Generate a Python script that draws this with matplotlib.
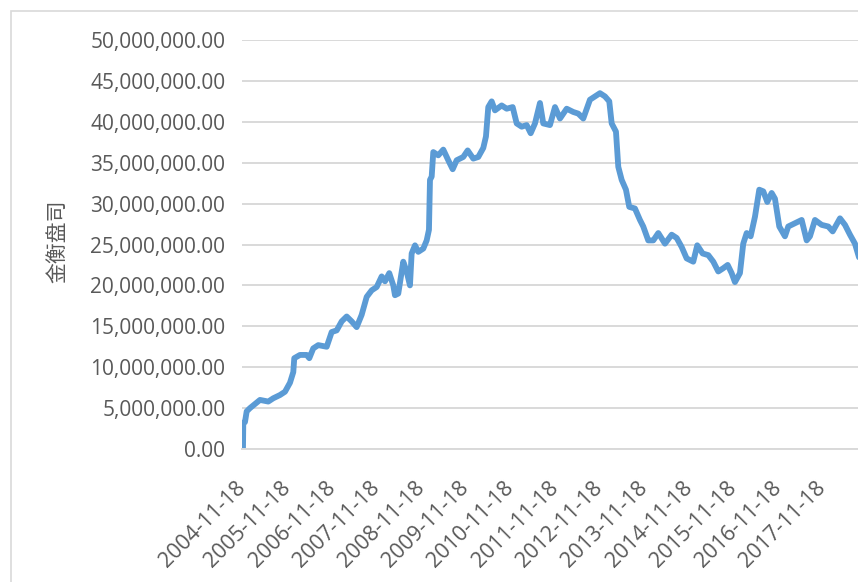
import matplotlib
matplotlib.use("Agg")
import matplotlib.pyplot as plt
from matplotlib.patches import Rectangle
from matplotlib.transforms import ScaledTranslation

# 时间（小数年）与资产净值（百万）
years = [
    2004.880, 2004.887, 2004.925, 2004.963, 2005.037, 2005.261, 2005.447, 2005.559,
    2005.710, 2005.822, 2005.934, 2006.008, 2006.030, 2006.158, 2006.308, 2006.367,
    2006.456, 2006.568, 2006.757, 2006.869, 2006.981, 2007.093, 2007.205, 2007.317,
    2007.429, 2007.541, 2007.654, 2007.766, 2007.878, 2007.990, 2008.064, 2008.160,
    2008.250, 2008.288, 2008.362, 2008.474, 2008.550, 2008.624, 2008.662, 2008.737,
    2008.810, 2008.923, 2008.999, 2009.050, 2009.073, 2009.111, 2009.147, 2009.259,
    2009.371, 2009.483, 2009.582, 2009.671, 2009.819, 2009.918, 2010.044, 2010.156,
    2010.268, 2010.328, 2010.380, 2010.456, 2010.530, 2010.680, 2010.793, 2010.927,
    2011.017, 2011.129, 2011.241, 2011.331, 2011.427, 2011.539, 2011.613, 2011.763,
    2011.876, 2011.988, 2012.138, 2012.286, 2012.398, 2012.510, 2012.660, 2012.772,
    2012.884, 2012.997, 2013.093, 2013.147, 2013.243, 2013.295, 2013.371, 2013.467,
    2013.541, 2013.669, 2013.781, 2013.855, 2013.967, 2014.080, 2014.192, 2014.342,
    2014.492, 2014.604, 2014.716, 2014.828, 2014.976, 2015.066, 2015.187, 2015.313,
    2015.425, 2015.537, 2015.649, 2015.748, 2015.837, 2015.911, 2016.023, 2016.097,
    2016.174, 2016.263, 2016.360, 2016.456, 2016.546, 2016.636, 2016.734, 2016.808,
    2016.905, 2017.032, 2017.106, 2017.257, 2017.407, 2017.519, 2017.593, 2017.705,
    2017.855, 2018.003, 2018.102, 2018.266, 2018.378, 2018.490, 2018.602, 2018.676,
    2018.750,
]
nav_m = [
    0.0, 3.2, 3.3, 4.6, 5.0, 6.0, 5.8, 6.2,
    6.6, 7.0, 8.1, 9.4, 11.1, 11.5, 11.5, 11.1,
    12.3, 12.7, 12.5, 14.3, 14.5, 15.6, 16.2, 15.6,
    14.9, 16.4, 18.6, 19.4, 19.8, 21.1, 20.5, 21.5,
    20.0, 18.8, 19.0, 22.9, 21.7, 20.0, 23.9, 24.9,
    24.1, 24.5, 25.5, 26.8, 32.9, 33.3, 36.3, 35.9,
    36.6, 35.3, 34.2, 35.3, 35.7, 36.5, 35.5, 35.7,
    36.8, 38.2, 41.8, 42.5, 41.4, 42.0, 41.6, 41.8,
    39.8, 39.4, 39.6, 38.6, 39.8, 42.3, 39.8, 39.6,
    41.8, 40.4, 41.6, 41.2, 41.0, 40.4, 42.7, 43.1,
    43.5, 43.1, 42.5, 39.8, 38.8, 34.5, 32.9, 31.7,
    29.6, 29.4, 28.0, 27.2, 25.5, 25.5, 26.4, 25.1,
    26.2, 25.8, 24.7, 23.3, 22.9, 24.9, 23.9, 23.7,
    22.9, 21.7, 22.1, 22.5, 21.5, 20.4, 21.5, 25.1,
    26.4, 26.0, 28.4, 31.7, 31.5, 30.2, 31.3, 30.6,
    27.2, 26.0, 27.2, 27.6, 28.0, 25.5, 26.0, 28.0,
    27.4, 27.2, 26.6, 28.2, 27.4, 26.2, 25.1, 23.7,
    22.5,
]

tick_years = [2004.88 + k for k in range(14)]
tick_labels = [
    "2004-11-18", "2005-11-18", "2006-11-18", "2007-11-18", "2008-11-18",
    "2009-11-18", "2010-11-18", "2011-11-18", "2012-11-18", "2013-11-18",
    "2014-11-18", "2015-11-18", "2016-11-18", "2017-11-18",
]
y_ticks = [0, 5e6, 10e6, 15e6, 20e6, 25e6, 30e6, 35e6, 40e6, 45e6, 50e6]

W, H = 858, 582
fig = plt.figure(figsize=(W / 100, H / 100), dpi=100)
ax = fig.add_axes([242 / W, 133 / H, 616 / W, 409 / H])

values = [v * 1e6 for v in nav_m]
ax.plot(years, values, color="#5b9bd5", linewidth=4.2,
        solid_joinstyle="round", solid_capstyle="round")

ax.set_xlim(2004.858, 2018.67)
ax.set_ylim(0, 50e6)
ax.set_yticks(y_ticks)
ax.set_yticklabels([f"{v:,.2f}" for v in y_ticks])
ax.set_xticks(tick_years)
ax.set_xticklabels(tick_labels, rotation=45, ha="right", va="center",
                   rotation_mode="anchor")
for lab in ax.get_xticklabels():
    lab.set_transform(lab.get_transform() + ScaledTranslation(0.26, 0, fig.dpi_scale_trans))
    lab.set_fontsize(15.5)

ax.tick_params(axis="both", length=0, labelcolor="#595959")
ax.tick_params(axis="y", pad=12, labelsize=15)
ax.tick_params(axis="x", pad=26)
for lab in ax.get_xticklabels() + ax.get_yticklabels():
    lab.set_family("Open Sans")

ax.grid(axis="y", color="#d9d9d9", linewidth=1.4)
ax.set_axisbelow(True)
for side in ("left", "top", "right"):
    ax.spines[side].set_visible(False)
ax.spines["bottom"].set_color("#d9d9d9")
ax.spines["bottom"].set_linewidth(1.4)

fig.text(57 / W, 1 - 241 / H, "金衡盘司", rotation=90, ha="center", va="center",
         fontsize=15, color="#595959", family=["Noto Sans CJK SC", "DejaVu Sans"],
         fontweight="light")

# 图表外框（右侧和底部被裁掉）
fig.patches.append(Rectangle((11 / W, -0.1), 1.2, 1 - 11 / H + 0.1,
                             transform=fig.transFigure, fill=False,
                             edgecolor="#d9d9d9", linewidth=1.2))

fig.savefig("out.png", dpi=100)
